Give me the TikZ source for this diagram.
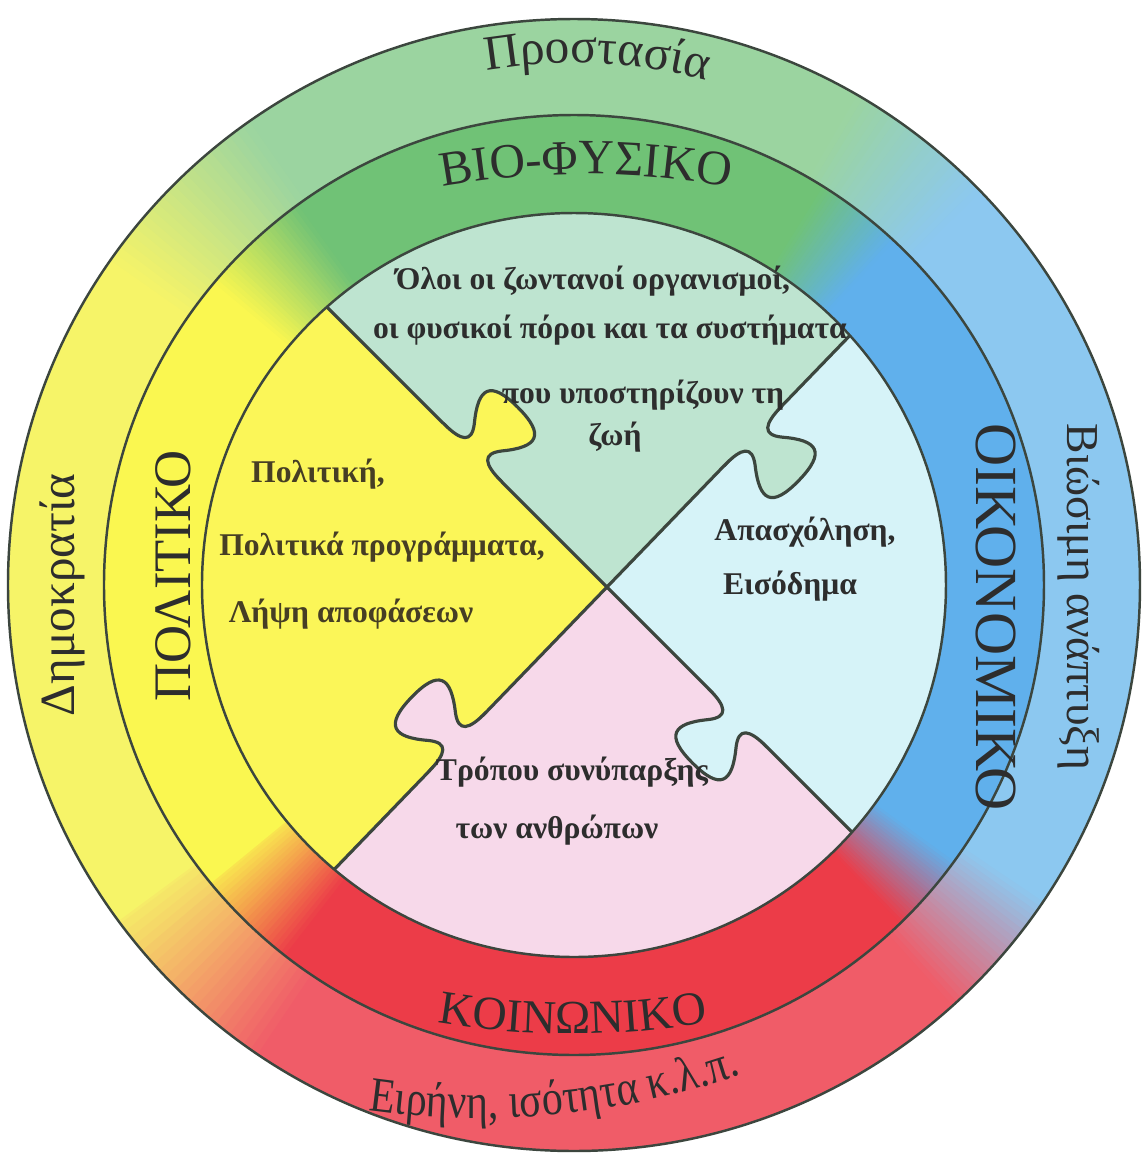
\documentclass[tikz,border=0pt]{standalone}
\usepackage{fontspec}
\setmainfont{Liberation Serif}
\newfontfamily\narrowserif[FakeStretch=0.85]{Liberation Serif}
\usepackage{tikz}
\usetikzlibrary{decorations.text}

\definecolor{outgreen}{RGB}{155,212,160}
\definecolor{outblue}{RGB}{140,200,240}
\definecolor{outred}{RGB}{240,92,104}
\definecolor{outyellow}{RGB}{246,244,104}
\definecolor{midgreen}{RGB}{112,194,118}
\definecolor{midblue}{RGB}{96,176,236}
\definecolor{midred}{RGB}{236,60,72}
\definecolor{midyellow}{RGB}{250,247,80}
\definecolor{piecegreen}{RGB}{190,228,208}
\definecolor{pieceblue}{RGB}{214,243,248}
\definecolor{piecepink}{RGB}{247,217,234}
\definecolor{pieceyellow}{RGB}{251,246,88}
\definecolor{inkgrey}{RGB}{45,45,45}
\definecolor{inkolive}{RGB}{70,62,36}
\definecolor{linegrey}{RGB}{60,70,62}

\tikzset{
    ring line/.style={draw=linegrey, line width=0.7pt},
    puzzle line/.style={draw=linegrey, line width=0.9pt, line cap=round, line join=round},
    inner text/.style={font=\bfseries\fontsize{9}{11}\selectfont, text=inkgrey, inner sep=0pt},
    ring label/.style={font=\fontsize{15}{17}\selectfont, text=inkgrey, inner sep=0pt},
    outer label/.style={font=\fontsize{14}{16}\selectfont, text=inkgrey, inner sep=0pt},
    pics/tab/.style={code={
        \fill[#1] (-0.36,0.04) -- (-0.36,0) .. controls (-0.14,0) and (-0.06,-0.06) .. (-0.17,-0.22)
            .. controls (-0.37,-0.5) and (-0.34,-0.64) .. (0,-0.64)
            .. controls (0.34,-0.64) and (0.37,-0.5) .. (0.17,-0.22)
            .. controls (0.06,-0.06) and (0.14,0) .. (0.36,0) -- (0.36,0.04) -- cycle;
        \draw[puzzle line] (-0.36,0) .. controls (-0.14,0) and (-0.06,-0.06) .. (-0.17,-0.22)
            .. controls (-0.37,-0.5) and (-0.34,-0.64) .. (0,-0.64)
            .. controls (0.34,-0.64) and (0.37,-0.5) .. (0.17,-0.22)
            .. controls (0.06,-0.06) and (0.14,0) .. (0.36,0);
    }}
}

\begin{document}
\begin{tikzpicture}
        \useasboundingbox[fill=white] (-5.74,-5.80) rectangle (5.68,5.85);

        \foreach \a/\b/\ca/\cb/\n in {-145/-124/outyellow/outred/24, -124/-48/outred/outred/4,
                -48/-34/outred/outblue/24, -34/44/outblue/outblue/4, 44/60/outblue/outgreen/24,
                60/125/outgreen/outgreen/4, 125/145/outgreen/outyellow/24, 145/216/outyellow/outyellow/4} {
            \foreach \k in {1,...,\n} {
                \pgfmathsetmacro\angA{\a+(\b-\a)*(\k-1)/\n}
                \pgfmathsetmacro\angB{\a+(\b-\a)*\k/\n+0.4}
                \pgfmathtruncatemacro\mix{100*(\k-0.5)/\n}
                \fill[\cb!\mix!\ca] (0,0) -- (\angA:5.66) arc[start angle=\angA, end angle=\angB, radius=5.66] -- cycle;
            }
        }
        \foreach \a/\b/\ca/\cb/\n in {-142/-128/midyellow/midred/24, -128/-46/midred/midred/4,
                -46/-36/midred/midblue/24, -36/47/midblue/midblue/4, 47/58/midblue/midgreen/24,
                58/126/midgreen/midgreen/4, 126/140/midgreen/midyellow/24, 140/219/midyellow/midyellow/4} {
            \foreach \k in {1,...,\n} {
                \pgfmathsetmacro\angA{\a+(\b-\a)*(\k-1)/\n}
                \pgfmathsetmacro\angB{\a+(\b-\a)*\k/\n+0.4}
                \pgfmathtruncatemacro\mix{100*(\k-0.5)/\n}
                \fill[\cb!\mix!\ca] (0,0) -- (\angA:4.70) arc[start angle=\angA, end angle=\angB, radius=4.70] -- cycle;
            }
        }

        \coordinate (X) at (0.33,-0.02);
        \begin{scope}
            \clip (0,0) circle (3.72);
            \begin{scope}[shift={(X)}]
                \fill[piecegreen] (0,0) -- (135:6) -- (90:7) -- (46:6) -- cycle;
                \fill[pieceblue] (0,0) -- (46:6) -- (0:7) -- (-45:6) -- cycle;
                \fill[piecepink] (0,0) -- (-45:6) -- (-90:7) -- (-134:6) -- cycle;
                \fill[pieceyellow] (0,0) -- (-134:6) -- (180:7) -- (135:6) -- cycle;
            \end{scope}
            \begin{scope}[shift={(X)}, rotate=135]
                \draw[puzzle line] (0,0) -- (4.5,0);
                \pic[transform shape, xscale=1.15] at (1.90,0) {tab=pieceyellow};
            \end{scope}
            \begin{scope}[shift={(X)}, rotate=46]
                \draw[puzzle line] (0,0) -- (4.5,0);
                \pic[transform shape, xscale=1.15] at (2.10,0) {tab=piecegreen};
            \end{scope}
            \begin{scope}[shift={(X)}, rotate=-45]
                \draw[puzzle line] (0,0) -- (4.5,0);
                \pic[transform shape, xscale=1.15] at (1.85,0) {tab=pieceblue};
            \end{scope}
            \begin{scope}[shift={(X)}, rotate=-134]
                \draw[puzzle line] (0,0) -- (4.5,0);
                \pic[transform shape, xscale=1.15] at (2.15,0) {tab=piecepink};
            \end{scope}
        \end{scope}

        \draw[ring line] (0,0) circle (5.66);
        \draw[ring line] (0,0) circle (4.70);
        \draw[ring line] (0,0) circle (3.72);

        \path[decorate, decoration={text along path, text align=center, text color=inkgrey,
            text={|\fontsize{14}{16}\selectfont|Προστασία}}]
            (115:5.22) arc[start angle=115, end angle=60, radius=5.22];
        \path[decorate, decoration={text along path, text align=center, text color=inkgrey,
            text={|\narrowserif\fontsize{14}{16}\selectfont|Ειρήνη, ισότητα κ.λ.π.}}]
            (-3.41,-4.94) arc[start angle=-108, end angle=-61, radius=8];
        \path[decorate, decoration={text along path, text align=center, text color=inkgrey,
            text={|\fontsize{14}{16}\selectfont|ΒΙΟ-ΦΥΣΙΚΟ}}]
            (-1.95,3.837) arc[start angle=105, end angle=75, radius=8];
        \path[decorate, decoration={text along path, text align=center, text color=inkgrey,
            text={|\fontsize{13.5}{15}\selectfont|ΚΟΙΝΩΝΙΚΟ}}]
            (-2.08,-4.217) arc[start angle=-105, end angle=-75, radius=8];

        \node[ring label, rotate=90] (politiko) at (-4.01,0.09) {ΠΟΛΙΤΙΚΟ};
        \node[ring label, rotate=-90, font=\fontsize{17}{19}\selectfont] (oikonomiko) at (4.22,-0.32) {ΟΙΚΟΝΟΜΙΚΟ};
        \node[outer label, rotate=90] (dimokratia) at (-5.12,-0.10) {Δημοκρατία};
        \node[outer label, rotate=-90, font=\fontsize{13}{15}\selectfont] (anaptyxi) at (5.05,-0.12) {Βιώσιμη ανάπτυξη};

        \begin{scope}[every node/.style={inner text}]
            \node (g1) at (0.19,3.04) {Όλοι οι ζωντανοί οργανισμοί,};
            \node (g2) at (0.36,2.55) {οι φυσικοί πόροι και τα συστήματα};
            \node (g3) at (0.69,1.90) {που υποστηρίζουν τη};
            \node (g4) at (0.41,1.48) {ζωή};

            \node[text=inkolive] (y1) at (-2.56,1.11) {Πολιτική,};
            \node[text=inkolive] (y2) at (-1.92,0.38) {Πολιτικά προγράμματα,};
            \node[text=inkolive] (y3) at (-2.23,-0.29) {Λήψη αποφάσεων};

            \node (b1) at (2.31,0.53) {Απασχόληση,};
            \node (b2) at (2.16,-0.01) {Εισόδημα};

            \node (p1) at (-0.02,-1.87) {Τρόπου συνύπαρξης};
            \node (p2) at (-0.17,-2.45) {των ανθρώπων};
        \end{scope}
    \end{tikzpicture}
\end{document}
